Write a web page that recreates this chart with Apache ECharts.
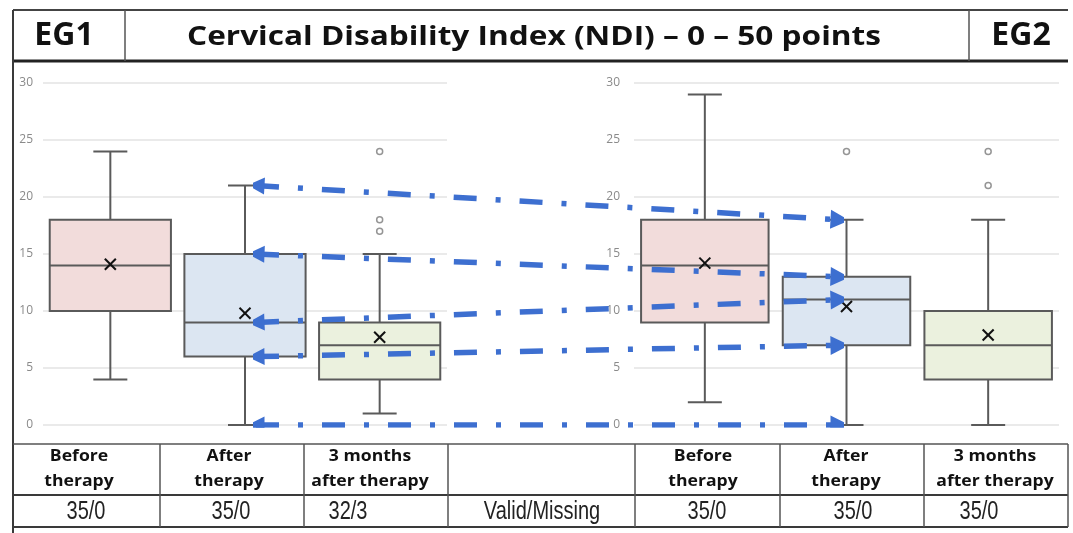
<!DOCTYPE html>
<html>
<head>
<meta charset="utf-8">
<script src="https://cdn.jsdelivr.net/npm/echarts@6/dist/echarts.min.js"></script>
<style>
html, body { margin: 0; padding: 0; background: #fff; }
#chart { width: 1073px; height: 533px; }
</style>
</head>
<body>
<div id="chart"></div>
<script>
// periods shown under each group
const periods = ['Before therapy', 'After therapy', '3 months after therapy'];
const headerLines = [['Before', 'therapy'], ['After', 'therapy'], ['3 months', 'after therapy']];
// [lower whisker, Q1, median, Q3, upper whisker]
const eg1Box = [[4, 10, 14, 18, 24], [0, 6, 9, 15, 21], [1, 4, 7, 9, 15]];
const eg1Mean = [14.1, 9.8, 7.7];
const eg1Outliers = [[2, 24], [2, 18], [2, 17]];
const eg2Box = [[2, 9, 14, 18, 29], [0, 7, 11, 13, 18], [0, 4, 7, 10, 18]];
const eg2Mean = [14.2, 10.4, 7.9];
const eg2Outliers = [[1, 24], [2, 24], [2, 21]];
const eg1Valid = ['35/0', '35/0', '32/3'];
const eg2Valid = ['35/0', '35/0', '35/0'];
const validLabel = 'Valid/Missing';
const yMax = 30;
const yStep = 5;

const boxFills = ['#f2dcdb', '#dce6f2', '#ebf1de'];
const boxStroke = '#5a5a5a';
const arrowColor = '#3d6fd0';

const dom = document.getElementById('chart');
const chart = echarts.init(dom);

function boxData(stats, means) {
    return stats.map((s, i) => [i].concat(s).concat([means[i]]));
}

function renderBox(params, api) {
    const i = api.value(0);
    const lo = api.coord([i, api.value(1)]);
    const q1 = api.coord([i, api.value(2)]);
    const med = api.coord([i, api.value(3)]);
    const q3 = api.coord([i, api.value(4)]);
    const hi = api.coord([i, api.value(5)]);
    const mean = api.coord([i, api.value(6)]);
    const bw = api.size([1, 0])[0] * 0.9;
    const cw = 17;
    const x = lo[0];
    const st = { stroke: boxStroke, lineWidth: 2 };
    const m = 5.5;
    return {
        type: 'group',
        children: [
            { type: 'line', shape: { x1: x, y1: q1[1], x2: x, y2: lo[1] }, style: st },
            { type: 'line', shape: { x1: x, y1: q3[1], x2: x, y2: hi[1] }, style: st },
            { type: 'line', shape: { x1: x - cw, y1: lo[1], x2: x + cw, y2: lo[1] }, style: st },
            { type: 'line', shape: { x1: x - cw, y1: hi[1], x2: x + cw, y2: hi[1] }, style: st },
            { type: 'rect', shape: { x: x - bw / 2, y: q3[1], width: bw, height: q1[1] - q3[1] },
              style: { fill: boxFills[i], stroke: boxStroke, lineWidth: 2 } },
            { type: 'line', shape: { x1: x - bw / 2, y1: med[1], x2: x + bw / 2, y2: med[1] }, style: st },
            { type: 'line', shape: { x1: mean[0] - m, y1: mean[1] - m, x2: mean[0] + m, y2: mean[1] + m },
              style: { stroke: '#111', lineWidth: 2 } },
            { type: 'line', shape: { x1: mean[0] - m, y1: mean[1] + m, x2: mean[0] + m, y2: mean[1] - m },
              style: { stroke: '#111', lineWidth: 2 } }
        ]
    };
}

function valueAxis(idx, show) {
    return {
        type: 'value', gridIndex: idx, min: 0, max: yMax, interval: yStep,
        axisLine: { show: false }, axisTick: { show: false },
        axisLabel: { show: show, color: '#8a8a8a', fontSize: 12, fontFamily: 'Open Sans', margin: idx === 1 ? 14 : 10 },
        splitLine: { show: show, lineStyle: { color: '#e3e3e3', width: 1.5 } }
    };
}

function catAxis(idx) {
    return {
        type: 'category', gridIndex: idx, data: periods,
        axisLine: { show: false }, axisTick: { show: false }, axisLabel: { show: false }
    };
}

// arrows link the after-therapy stats of EG1 to those of EG2
const arrowLinks = eg1Box[1].map((v, k) => ({ coords: [[0, v], [1, eg2Box[1][k]]] }));

// table layout
const colEdges = [13, 160, 304, 448, 635, 780, 924, 1068];
const headCenters = [79, 229, 370, 541, 703, 846, 995];
const valCenters = [86, 231, 348, 542, 707, 853, 979];
const headerTexts = headerLines.concat([['', '']]).concat(headerLines);
const valueTexts = eg1Valid.concat([validLabel]).concat(eg2Valid);

const graphics = [];
const frame = { stroke: '#3a3a3a', lineWidth: 2 };
const thin = { stroke: '#555', lineWidth: 1.5 };
// title frame
graphics.push({ type: 'line', shape: { x1: 13, y1: 10, x2: 1068, y2: 10 }, style: { stroke: '#444', lineWidth: 2 } });
graphics.push({ type: 'line', shape: { x1: 13, y1: 61, x2: 1068, y2: 61 }, style: { stroke: '#222', lineWidth: 3 } });
graphics.push({ type: 'line', shape: { x1: 13, y1: 10, x2: 13, y2: 533 }, style: frame });
graphics.push({ type: 'line', shape: { x1: 125, y1: 10, x2: 125, y2: 61 }, style: thin });
graphics.push({ type: 'line', shape: { x1: 969, y1: 10, x2: 969, y2: 61 }, style: thin });
graphics.push({ type: 'text', x: 64, y: 36, style: { text: 'EG1', font: 'bold 32px "Open Sans"', fill: '#111', textAlign: 'center', textVerticalAlign: 'middle' } });
graphics.push({ type: 'text', x: 1021, y: 36, style: { text: 'EG2', font: 'bold 32px "Open Sans"', fill: '#111', textAlign: 'center', textVerticalAlign: 'middle' } });
graphics.push({ type: 'text', x: 534, y: 37, scaleX: 1.17,
    style: { text: 'Cervical Disability Index (NDI) \u2013 0 \u2013 50 points', font: 'bold 27px "Open Sans"', fill: '#111', textAlign: 'center', textVerticalAlign: 'middle' } });

// table lines
graphics.push({ type: 'line', shape: { x1: 13, y1: 444, x2: 1068, y2: 444 }, style: thin });
graphics.push({ type: 'line', shape: { x1: 13, y1: 495, x2: 1068, y2: 495 }, style: frame });
graphics.push({ type: 'line', shape: { x1: 13, y1: 527, x2: 1068, y2: 527 }, style: frame });
colEdges.slice(1).forEach(x => {
    graphics.push({ type: 'line', shape: { x1: x, y1: 444, x2: x, y2: 527 }, style: thin });
});
headerTexts.forEach((lines, c) => {
    lines.forEach((t, r) => {
        graphics.push({ type: 'text', x: headCenters[c], y: 456 + r * 25, scaleX: 1.1,
            style: { text: t, font: 'bold 16px "Open Sans"', fill: '#111', textAlign: 'center', textVerticalAlign: 'middle' } });
    });
});
valueTexts.forEach((t, c) => {
    graphics.push({ type: 'text', x: valCenters[c], y: 512, scaleX: 0.8,
        style: { text: t, font: '25px "Liberation Sans"', fill: '#222', textAlign: 'center', textVerticalAlign: 'middle' } });
});

const option = {
    backgroundColor: '#fff',
    animation: false,
    grid: [
        { left: 43, width: 404, top: 83, height: 342 },
        { left: 634, width: 425, top: 83, height: 342 },
        { left: 256, right: 233, top: 83, height: 342 }
    ],
    xAxis: [catAxis(0), catAxis(1),
        { type: 'value', gridIndex: 2, min: 0, max: 1, show: false }],
    yAxis: [valueAxis(0, true), valueAxis(1, true),
        { type: 'value', gridIndex: 2, min: 0, max: yMax, show: false }],
    series: [
        { type: 'custom', xAxisIndex: 0, yAxisIndex: 0, renderItem: renderBox,
          encode: { x: 0, y: [1, 2, 3, 4, 5] }, data: boxData(eg1Box, eg1Mean) },
        { type: 'custom', xAxisIndex: 1, yAxisIndex: 1, renderItem: renderBox,
          encode: { x: 0, y: [1, 2, 3, 4, 5] }, data: boxData(eg2Box, eg2Mean) },
        { type: 'scatter', xAxisIndex: 0, yAxisIndex: 0, data: eg1Outliers, symbol: 'circle', symbolSize: 6,
          itemStyle: { color: '#fff', borderColor: '#7a7a7a', borderWidth: 1.5 } },
        { type: 'scatter', xAxisIndex: 1, yAxisIndex: 1, data: eg2Outliers, symbol: 'circle', symbolSize: 6,
          itemStyle: { color: '#fff', borderColor: '#7a7a7a', borderWidth: 1.5 } },
        { type: 'lines', coordinateSystem: 'cartesian2d', xAxisIndex: 2, yAxisIndex: 2, z: 10, silent: true,
          symbol: ['triangle', 'triangle'], symbolSize: [17, 19],
          lineStyle: { color: arrowColor, width: 5.5, type: [23, 19, 5, 19], opacity: 1, curveness: 0 },
          data: arrowLinks }
    ],
    graphic: graphics
};
chart.setOption(option);
</script>
</body>
</html>
